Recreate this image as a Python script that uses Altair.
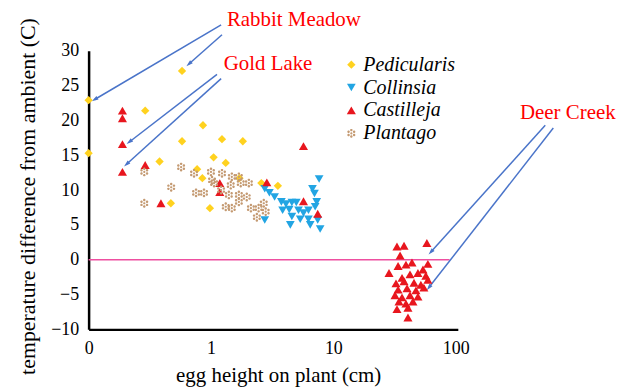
import math
import altair as alt
import pandas as pd

# ---------------- data ----------------
species_names = ["Pedicularis", "Collinsia", "Castilleja", "Plantago"]
species_colors = ["#FFD21F", "#22A5E3", "#E8161E", "#C49A72"]

ped_x = [0, 0, 0.58, 0.29, 0.86, 0.58, 1.23, 1.82, 0.38, 1.05, 1.32, 0.77, 0.85, 1.71, 2.58, 3.52, 0.47, 0.98]
ped_y = [22.9, 15.3, 27.1, 21.4, 19.3, 17.0, 17.3, 17.0, 14.1, 14.7, 13.9, 13.0, 11.7, 11.7, 11.0, 10.6, 8.1, 7.4]

col_x = [2.75, 3.0, 3.31, 3.76, 4.10, 4.58, 4.98, 3.85, 4.36, 5.19, 6.26, 6.75, 7.01, 7.31, 7.65, 7.10,
         4.58, 5.36, 6.26, 7.45, 7.80, 4.45, 2.75, 6.47, 5.70]
col_y = [10.2, 9.6, 9.0, 8.3, 8.0, 8.2, 8.2, 7.1, 7.2, 7.1, 7.1, 10.2, 9.5, 8.3, 11.6, 7.6,
         6.2, 5.8, 5.8, 5.7, 4.4, 5.0, 5.7, 5.0, 6.7]

cas_x = [0.189, 0.189, 0.189, 0.189, 0.29, 0.39, 1.18, 1.18, 2.86, 5.7, 5.7, 7.45,
         33.1, 37.8, 35.1, 58.1,
         28.5, 33.8, 39.2, 43.9, 59.2, 54.0,
         36.4, 42.3, 49.1, 57.0,
         32.5, 37.8, 45.6, 51.9, 59.2,
         33.8, 40.0, 47.3, 54.9,
         31.9, 36.4, 42.3, 49.1,
         34.4, 39.2, 44.7,
         33.1, 40.7,
         40.7]
cas_y = [21.4, 20.3, 16.6, 12.6, 13.6, 8.1, 11.0, 9.7, 11.1, 16.3, 8.4, 6.6,
         1.9, 2.0, 0.6, 2.4,
         -1.9, -0.9, -0.7, -0.4, -0.6, -1.4,
         -2.6, -2.1, -1.9, -2.3,
         -3.4, -3.1, -3.3, -3.6, -2.9,
         -4.3, -4.1, -4.4, -4.0,
         -5.1, -5.4, -5.1, -5.3,
         -6.0, -6.3, -6.0,
         -7.1, -6.9,
         -8.3]

pla_x = [0.285, 0.570, 0.473, 0.285, 0.755, 0.877, 0.727, 1.0, 1.23, 1.02, 1.48, 1.69, 1.06, 1.45,
         1.75, 2.04, 1.40, 1.69, 1.96, 1.69, 1.32, 1.48, 2.12, 2.45, 2.70, 2.80, 2.37, 1.21]
pla_y = [12.6, 13.3, 10.4, 8.1, 9.6, 9.6, 12.4, 12.6, 12.4, 11.4, 11.9, 11.9, 11.0, 10.7,
         11.0, 11.0, 9.3, 9.3, 9.0, 8.3, 7.6, 7.4, 7.4, 7.4, 8.1, 6.9, 6.1, 10.0]

x_ticks = [0.1, 1, 10, 100]
y_ticks = [-10, -5, 0, 5, 10, 15, 20, 25, 30]

site_labels = ["Rabbit Meadow", "Gold Lake", "Deer Creek"]
site_label_x = [1.35, 1.27, 335]
site_label_y = [34.4, 28.1, 21.0]

arrow_x1 = [1.21, 1.23, 1.12, 1.21, 539, 627]
arrow_y1 = [33.7, 32.3, 26.6, 26.0, 19.3, 18.9]
arrow_x2 = [0.112, 0.66, 0.215, 0.204, 62.6, 60.3]
arrow_y2 = [23.0, 28.1, 16.9, 13.7, 1.1, -4.0]

zero_x = [0.1]
zero_x2 = [89]
zero_y = [0]

# ---------------- layout ----------------
W, H = 371, 280
X_DOM = [0.1, 104]
Y_DOM = [-10, 30]
FONT = "Liberation Serif, Times New Roman, Times, serif"


def circle_poly(cx, cy, r, n=10):
    pts = []
    for k in range(n):
        a = 2 * math.pi * k / n
        pts.append((cx + r * math.cos(a), cy + r * math.sin(a)))
    s = "M%.3f,%.3f" % pts[0]
    for p in pts[1:]:
        s += "L%.3f,%.3f" % p
    return s + "Z"


flower = circle_poly(0, 0, 0.24)
for k in range(6):
    a = math.radians(90 + 60 * k)
    flower += circle_poly(0.68 * math.cos(a), 0.68 * math.sin(a), 0.27)

shapes = ["diamond", "triangle-down", "triangle-up", flower]
sizes = [70, 90, 90, 95]

rows = []
for name, xs, ys in zip(species_names, [ped_x, col_x, cas_x, pla_x], [ped_y, col_y, cas_y, pla_y]):
    for x, y in zip(xs, ys):
        rows.append({"species": name, "height": x if x > 0 else 0.1, "temp": y})
df = pd.DataFrame(rows)

x_scale = alt.Scale(type="log", domain=X_DOM, nice=False)
y_scale = alt.Scale(domain=Y_DOM, nice=False, zero=False)

x_axis = alt.Axis(values=x_ticks, title="egg height on plant (cm)",
                  labelExpr="datum.value < 0.5 ? '0' : format(datum.value, 'd')",
                  labelFont=FONT, labelFontSize=18,
                  labelPadding=10, labelFlush=False, titleFontSize=21,
                  titleX=W / 2 + 5, titleY=46, titleBaseline="middle", titleAlign="center")
y_axis = alt.Axis(values=y_ticks, title="temperature difference from ambient (C)",
                  labelFont=FONT, labelFontSize=18,
                  labelPadding=10, titleFontSize=22,
                  titleX=-61, titleY=146, titleBaseline="middle", titleAlign="center", titleAngle=270)

legend = alt.Legend(title=None, orient="none", legendX=254, legendY=4,
                    labelFont=FONT, labelFontStyle="italic", labelFontSize=20, labelColor="black",
                    symbolSize=50, rowPadding=3, labelOffset=2, padding=0, symbolStrokeWidth=0)

zero_df = pd.DataFrame({"x": zero_x, "x2": zero_x2, "y": zero_y})
zero = alt.Chart(zero_df).mark_rule(color="#EE4FA0", strokeWidth=1.5).encode(
    x=alt.X("x:Q", scale=x_scale, axis=x_axis), x2="x2:Q",
    y=alt.Y("y:Q", scale=y_scale, axis=y_axis))

points = alt.Chart(df).mark_point(filled=True, opacity=1, strokeWidth=0).encode(
    x=alt.X("height:Q", scale=x_scale, axis=x_axis),
    y=alt.Y("temp:Q", scale=y_scale, axis=y_axis),
    color=alt.Color("species:N", scale=alt.Scale(domain=species_names, range=species_colors), legend=legend),
    shape=alt.Shape("species:N", scale=alt.Scale(domain=species_names, range=shapes), legend=legend),
    size=alt.Size("species:N", scale=alt.Scale(domain=species_names, range=sizes), legend=None),
)

# arrows
lx0, lx1 = math.log10(X_DOM[0]), math.log10(X_DOM[1])


def px(x):
    return W * (math.log10(x) - lx0) / (lx1 - lx0)


def py(y):
    return H * (Y_DOM[1] - y) / (Y_DOM[1] - Y_DOM[0])


angles = []
for a, b, c, d in zip(arrow_x1, arrow_y1, arrow_x2, arrow_y2):
    dx = px(c) - px(a)
    dy = py(d) - py(b)
    angles.append(math.degrees(math.atan2(dx, -dy)) % 360)

arr_df = pd.DataFrame({"x": arrow_x1, "y": arrow_y1, "x2": arrow_x2, "y2": arrow_y2, "ang": angles})
arrows = alt.Chart(arr_df).mark_rule(color="#4A74C9", strokeWidth=1.5).encode(
    x=alt.X("x:Q", scale=x_scale, axis=x_axis), x2="x2:Q",
    y=alt.Y("y:Q", scale=y_scale, axis=y_axis), y2="y2:Q")
heads = alt.Chart(arr_df).mark_point(shape="M0,-1L0.6,1L-0.6,1Z", filled=True, size=45,
                                     color="#4A74C9", opacity=1, strokeWidth=0).encode(
    x=alt.X("x2:Q", scale=x_scale, axis=x_axis),
    y=alt.Y("y2:Q", scale=y_scale, axis=y_axis),
    angle=alt.Angle("ang:Q", scale=None))

lab_df = pd.DataFrame({"x": site_label_x, "y": site_label_y, "label": site_labels})
labels = alt.Chart(lab_df).mark_text(align="left", baseline="middle", font=FONT, fontSize=21,
                                     color="#FF0000").encode(
    x=alt.X("x:Q", scale=x_scale, axis=x_axis),
    y=alt.Y("y:Q", scale=y_scale, axis=y_axis),
    text="label:N")

chart = alt.layer(zero, arrows, heads, points, labels).properties(
    width=W, height=H,
    autosize=alt.AutoSizeParams(type="none"),
    padding={"left": 81, "top": 42, "right": 170, "bottom": 62},
).configure_view(stroke=None).configure_axis(
    domainColor="black", domainWidth=2.5, ticks=False, grid=False,
    labelFont=FONT, labelFontSize=18, labelColor="black",
    titleFont=FONT, titleFontWeight="normal", titleColor="black",
)

chart.save("out.html", embed_options={"renderer": "svg", "actions": False})
